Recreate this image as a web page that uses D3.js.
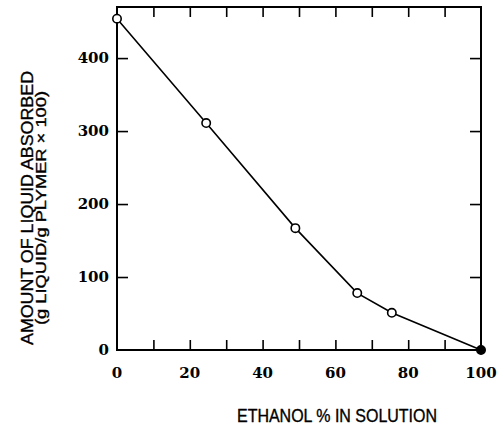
<!DOCTYPE html>
<html>
<head>
<meta charset="utf-8">
<script src="https://cdn.jsdelivr.net/npm/d3@7/dist/d3.min.js"></script>
<style>
  html, body { margin: 0; padding: 0; background: #fff; }
  svg { display: block; }
</style>
</head>
<body>
<svg id="chart" width="497" height="430"></svg>
<script>
// Ethanol content of the solution (%) and liquid absorbed (g liquid / g polymer x 100)
const ethanolPct = [0, 24.5, 49, 66, 75.5, 100];
const absorbed   = [454, 311, 167, 78, 51, 0];
const xTickValues = [0, 20, 40, 60, 80, 100];
const xMinorValues = [10, 20, 30, 40, 50, 60, 70, 80, 90];
const yTickValues = [0, 100, 200, 300, 400];
const xTitle = "ETHANOL % IN SOLUTION";
const yTitleLines = ["AMOUNT OF LIQUID ABSORBED", "(g LIQUID/g PLYMER \u00d7 100)"];

const svg = d3.select("#chart");
const plotLeft = 117, plotRight = 481, plotTop = 7, plotBottom = 350;

const x = d3.scaleLinear().domain([0, 100]).range([plotLeft, plotRight]);
const y = d3.scaleLinear().domain([0, 470]).range([plotBottom, plotTop]);

const tickFont = "'DejaVu Serif', 'Liberation Serif', serif";
const titleFont = "'Liberation Sans', Arial, sans-serif";

// frame
svg.append("rect")
  .attr("x", plotLeft).attr("y", plotTop)
  .attr("width", plotRight - plotLeft).attr("height", plotBottom - plotTop)
  .attr("fill", "none").attr("stroke", "#000").attr("stroke-width", 2);

// inward ticks on all four sides
const tickLen = 10;
function styleAxis(g) {
  g.select(".domain").remove();
  g.selectAll(".tick line").attr("stroke", "#000").attr("stroke-width", 1.6);
  g.selectAll("text").remove();
}
svg.append("g").attr("transform", `translate(0,${plotBottom})`)
  .call(d3.axisTop(x).tickValues(xMinorValues).tickSize(tickLen)).call(styleAxis);
svg.append("g").attr("transform", `translate(0,${plotTop})`)
  .call(d3.axisBottom(x).tickValues(xMinorValues).tickSize(tickLen)).call(styleAxis);
svg.append("g").attr("transform", `translate(${plotLeft},0)`)
  .call(d3.axisRight(y).tickValues(yTickValues.slice(1)).tickSize(tickLen + 1)).call(styleAxis);
svg.append("g").attr("transform", `translate(${plotRight},0)`)
  .call(d3.axisLeft(y).tickValues(yTickValues.slice(1)).tickSize(tickLen + 1)).call(styleAxis);

// tick labels
svg.append("g").selectAll("text").data(xTickValues).join("text")
  .attr("x", d => x(d)).attr("y", plotBottom + 28)
  .attr("text-anchor", "middle")
  .attr("font-family", tickFont).attr("font-weight", "bold").attr("font-size", 15)
  .text(d => d);
svg.append("g").selectAll("text").data(yTickValues).join("text")
  .attr("x", plotLeft - 8).attr("y", d => y(d) + 5)
  .attr("text-anchor", "end")
  .attr("font-family", tickFont).attr("font-weight", "bold").attr("font-size", 15)
  .text(d => d);

// axis titles
svg.append("text")
  .attr("x", 237).attr("y", 422)
  .attr("font-family", titleFont).attr("font-size", 18)
  .attr("stroke", "#000").attr("stroke-width", 0.35)
  .attr("textLength", 200).attr("lengthAdjust", "spacingAndGlyphs")
  .text(xTitle);

const yTitle = svg.append("g").attr("transform", "translate(0,208) rotate(-90)");
yTitle.append("text")
  .attr("x", -137).attr("y", 33)
  .attr("font-family", titleFont).attr("font-size", 17)
  .attr("stroke", "#000").attr("stroke-width", 0.35)
  .attr("textLength", 274).attr("lengthAdjust", "spacingAndGlyphs")
  .text(yTitleLines[0]);
yTitle.append("text")
  .attr("x", -117).attr("y", 46)
  .attr("font-family", titleFont).attr("font-size", 15)
  .attr("stroke", "#000").attr("stroke-width", 0.35)
  .attr("textLength", 234).attr("lengthAdjust", "spacingAndGlyphs")
  .text(yTitleLines[1]);

// data line and markers
const pts = ethanolPct.map((e, i) => [e, absorbed[i]]);
svg.append("path")
  .datum(pts)
  .attr("fill", "none").attr("stroke", "#000").attr("stroke-width", 1.6)
  .attr("d", d3.line().x(d => x(d[0])).y(d => y(d[1])));

svg.append("g").selectAll("circle").data(pts).join("circle")
  .attr("cx", d => x(d[0])).attr("cy", d => y(d[1]))
  .attr("r", 4.2)
  .attr("fill", (d, i) => i === pts.length - 1 ? "#000" : "#fff")
  .attr("stroke", "#000").attr("stroke-width", 1.6);
</script>
</body>
</html>
